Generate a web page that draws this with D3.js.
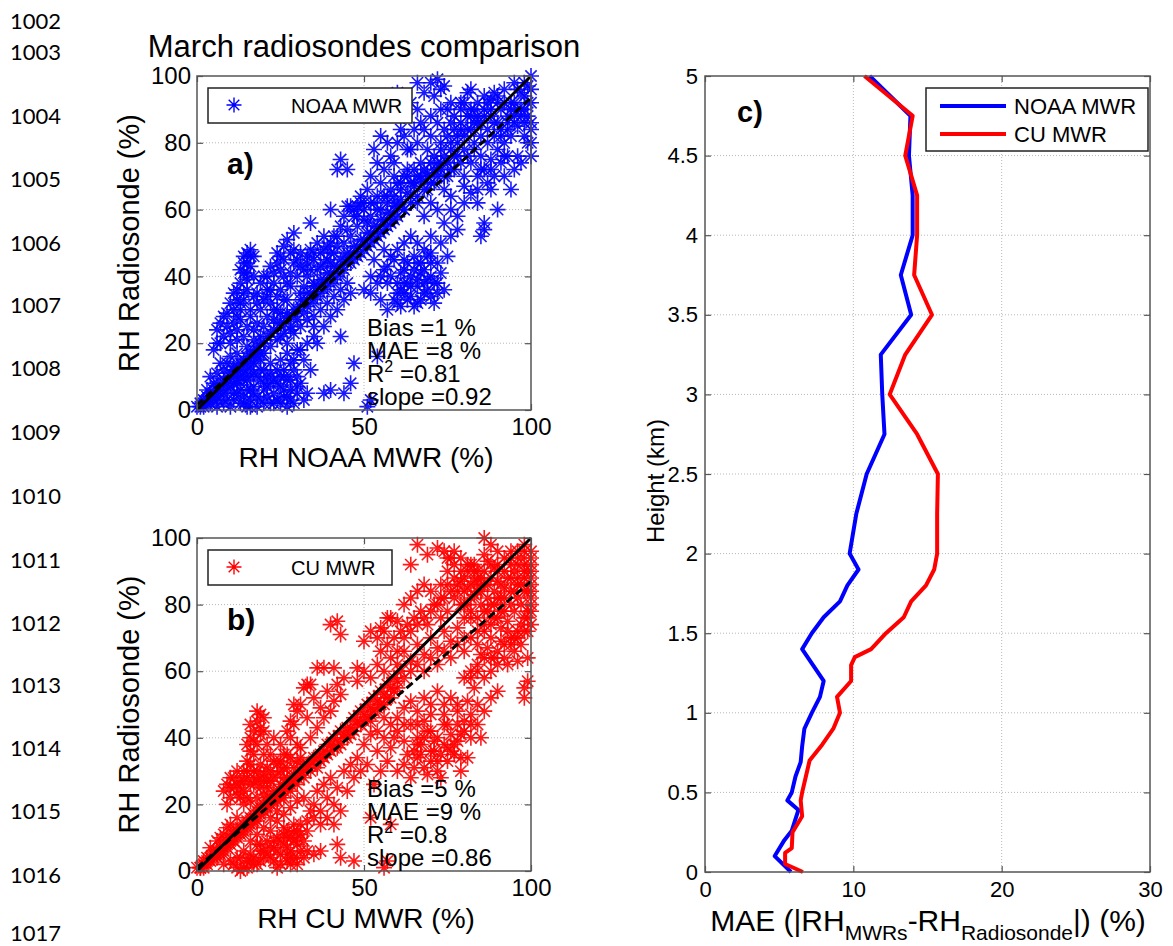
<!DOCTYPE html>
<html>
<head>
<meta charset="utf-8">
<script src="https://cdn.jsdelivr.net/npm/d3@7"></script>
<style>
  body { margin: 0; background: #fff; }
  text { font-family: "Liberation Sans", Arial, sans-serif; fill: #000; }
  .grid line { stroke: #b8b8b8; stroke-width: 1; stroke-dasharray: 1,2; }
  .lineno { font-family: Lato, "Open Sans", sans-serif; font-size: 22px; }
</style>
</head>
<body>
<div id="chart"></div>
<script>
// ---- data ----
var lineNums = [1002, 1003, 1004, 1005, 1006, 1007, 1008, 1009, 1010, 1011, 1012, 1013, 1014, 1015, 1016, 1017];

var scatterTicksX = [0, 50, 100];
var scatterTicksY = [0, 20, 40, 60, 80, 100];
var maeTicks = [0, 10, 20, 30];
var heightTicks = [0, 0.5, 1, 1.5, 2, 2.5, 3, 3.5, 4, 4.5, 5];

// panel a: [RH NOAA MWR, RH radiosonde]
var noaaPts = [
  [1,1],[2,3],[3,2],[4,5],[5,3],[6,6],[7,4],[8,8],[9,6],[10,10],[11,8],[12,12],[13,10],[14,14],[15,12],[16,16],[17,14],[18,18],[19,15],[20,20],
  [3,6],[5,8],[6,11],[8,12],[9,14],[10,16],[11,13],[12,17],[7,14],[4,10],
  [6,1],[8,2],[10,1],[11,3],[12,5],[13,2],[14,4],[15,6],[16,3],[17,7],[18,4],[19,9],[20,6],[21,10],[22,8],[23,5],[24,3],[25,7],[26,4],[28,3],[29,2],[22,2],[18,1],[15,1],[9,3],[12,8],[14,9],[16,10],[20,12],[22,14],[24,12],[26,10],[28,14],[30,10],[27,17],[25,15],
  [5,18],[7,20],[8,22],[9,25],[10,23],[11,26],[12,24],[13,27],[14,22],[15,25],[16,28],[17,24],[18,26],[19,30],[20,25],[21,28],[22,23],[23,27],[24,30],[25,22],[26,26],[27,29],[28,24],[29,28],[30,30],[10,20],[12,21],[6,24],[8,28],[11,30],
  [13,32],[14,35],[13,38],[14,41],[15,44],[15,47],[16,48],[14,46],[16,43],[12,36],[15,39],[17,34],[16,30],[12,33],[17,46],
  [20,33],[22,36],[24,34],[21,40],[23,38],[25,42],[26,49],[27,51],[28,47],[29,44],[30,40],[31,43],[32,37],[33,46],[34,48],[35,45],[36,50],[37,47],[38,52],[39,49],[40,44],[34,56],[29,53],[26,45],[24,44],[22,43],[28,37],[31,35],[33,40],[35,38],[27,33],[25,36],
  [31,31],[32,33],[33,31],[34,35],[35,33],[36,37],[37,35],[38,39],[39,37],[40,41],[41,39],[42,43],[43,41],[44,46],[45,44],[46,47],[47,45],[48,49],[49,47],[50,51],[51,49],[52,53],[53,51],[54,55],[55,53],[56,57],[57,55],[58,59],[59,57],[60,61],
  [36,42],[38,44],[40,47],[42,49],[44,50],[46,52],[48,55],[50,57],[52,58],[54,60],[41,52],[43,55],[45,54],[47,60],[49,62],[51,56],
  [27,20],[29,23],[31,25],[33,27],[35,28],[37,30],[39,32],[41,34],[43,36],[45,38],[30,18],[32,15],[34,12],[36,20],[38,25],[40,28],[29,12],[31,8],[33,5],[28,6],[35,22],[42,30],[44,33],[46,35],
  [38,5],[40,6],[44,5],[46,8],[52,3],[51,1],[47,14],[43,22],[54,16],
  [50,36],[52,40],[54,38],[56,42],[58,40],[60,38],[62,35],[64,40],[66,37],[68,42],[55,33],[57,30],[59,33],[61,31],[63,44],[65,46],[67,33],[69,36],[70,40],[71,32],[72,44],[73,50],[75,46],[58,46],[60,48],[62,50],[64,52],[66,50],[68,48],[70,52],[53,45],[56,48],
  [45,61],[47,58],[49,64],[51,66],[53,62],[55,68],[57,64],[59,70],[61,66],[63,72],[65,68],[67,74],[69,70],[71,76],[73,72],[50,60],[52,70],[54,74],[56,72],[58,76],[60,62],[62,60],[64,64],[66,62],[68,58],[70,62],[72,60],[74,66],[76,64],[78,58],[57,80],[60,80],[63,78],[53,78],[55,82],[61,84],[59,74],
  [42,72],[43,75],[45,72],[46,61],[48,61],[40,60],[44,58],
  [62,88],[64,92],[66,90],[68,95],[70,98],[72,99],[71,94],[73,96],[75,90],[77,88],[79,92],[81,95],[83,90],[85,86],[87,92],[89,95],[91,90],[93,88],[95,92],[97,95],[99,97],[100,92],[98,90],[96,85],[94,82],[92,80],[90,78],[88,75],[86,72],[84,70],[82,74],[80,78],[78,82],[76,80],[74,84],[72,86],[70,82],[68,84],[66,80],[64,78],[100,84],[100,76],[99,80],[97,74],[95,72],[93,76],[91,74],[89,70],[87,68],[85,72],[83,80],[81,84],[79,86],[77,76],[75,74],[73,78],[71,68],[69,78],[80,67],[82,65],[84,62],[86,56],[85,52],[86,54],[90,60],[88,66],[92,70],[94,66],[96,76],[98,82],[100,86],[74,56],[76,52],[78,54],[80,70],
  [60,95],[66,98],[74,97],[76,92],[82,96],[88,93],[92,96],[95,98],[98,94],
  [2,1],[3,4],[4,2],[5,6],[6,3],[7,8],[8,5],[9,10],[10,7],[11,12],[12,9],[13,14],[14,11],[15,16],[16,13],[17,18],[18,16],[19,20],[20,17],[21,22],[22,19],[23,24],[24,21],[25,26],[26,23],[27,28],[28,25],[29,30],[30,27],[31,33],[32,29],[33,35],[34,32],[35,37],[36,34],[37,39],[38,36],[39,41],[40,38],[41,43],[42,40],[43,45],[44,42],[45,47],[46,44],[47,49],[48,46],[49,51],[50,48],[51,53],[52,50],[53,55],[54,52],[55,57],[56,54],[57,59],[58,56],[59,61],[60,58],[61,63],[62,60],[63,65],[64,62],[65,67],[66,64],[67,69],[68,66],[69,71],[70,68],[72,74],[74,76],[76,78],[78,80],[80,82],[82,84],[84,86],[86,88],[88,90],[90,92],
  [6,20],[7,26],[9,29],[10,32],[11,35],[12,28],[13,30],[14,33],[15,36],[13,42],[14,44],[15,41],[16,46],[17,40],[18,35],[18,32],[19,38],[20,40],[21,36],[22,32],[23,30],[24,26],[25,29],[26,33],[19,22],[17,21],[15,19],
  [16,6],[18,10],[20,8],[22,11],[24,8],[26,12],[27,9],[29,15],[31,18],[33,20],[35,25],[30,5],[32,3],[25,2],[20,2],[27,1],
  [55,40],[57,43],[59,45],[61,41],[63,38],[65,42],[67,44],[69,46],[52,35],[57,38],[62,45],[66,44],[70,47],[72,38],[60,35],
  [55,60],[57,62],[59,64],[61,68],[63,70],[65,72],[67,70],[69,66],[71,72],[73,74],[75,70],[77,72],[79,74],[81,76],[83,78],[85,76],[87,80],[89,82],[91,84],[93,86],[95,88],[97,90],[99,88],[62,82],[65,84],[67,86],[70,88],[73,90],[76,86],[79,90],[82,88],[84,92],[86,90],[90,86],[94,92],[96,96],[100,96],[100,80],[98,86],[92,76],[88,72],[84,66],[80,62],[76,60],
  [60,32],[61,36],[62,42],[63,33],[64,37],[65,31],[66,39],[67,41],[68,35],[69,39],[70,34],[71,38],[72,35],[73,41],[74,36],[62,38],[64,34],[66,32],[68,38],[70,44],
  [14,2],[16,1],[17,5],[19,3],[21,4],[21,7],[23,9],[23,2],[25,10],[26,6],[27,4],[28,9],[30,7],[19,12],[17,11],[15,9],[13,6],[11,5],
  [21,34],[23,41],[24,47],[25,46],[26,40],[27,38],[28,41],[29,48],[30,45],[31,47],[32,42],[33,44],[34,42],[35,47],[37,43],[38,48],[39,45],[40,50],[41,47],[42,52],
  [80,92],[82,90],[84,88],[86,94],[88,88],[90,94],[92,92],[94,90],[96,90],[98,98],[100,100],[99,92],[97,88],[95,86],[93,84],[91,82],[89,86],[87,84],[85,82],[83,86],[81,88],[79,84],[77,84],[75,82],[73,80],[78,76],[76,72],[74,70],[72,70],[70,74],[68,72],[66,70],[64,68],[62,70],[60,68],[58,66],[56,64],[54,64],[52,62],[50,62],[48,58],
  [0,1],[1,2],[2,2],[3,3],[4,4],[5,5],[6,7],[7,6],[8,9],[9,8],[10,11],[11,10],[12,13],[13,12],[14,15],[15,14],[16,17],[17,16],[18,19],[19,17]
];

// panel b: [RH CU MWR, RH radiosonde]
var cuPts = [
  [1,1],[2,2],[3,3],[4,3],[5,5],[6,4],[7,7],[8,6],[9,9],[10,8],[11,11],[12,10],[13,13],[14,12],[15,15],[16,14],[17,17],[18,15],[19,19],[20,18],[21,21],[22,20],
  [4,7],[6,9],[8,11],[9,13],[10,14],[12,16],[11,12],[7,10],
  [8,2],[10,3],[12,1],[13,4],[14,6],[15,3],[16,5],[17,2],[18,8],[19,6],[20,4],[21,9],[22,7],[23,3],[24,10],[25,5],[26,8],[27,3],[28,6],[29,4],[30,2],[18,11],[20,13],[22,12],[24,15],[26,13],[28,10],[30,12],[32,9],[13,0],[16,9],
  [8,24],[9,26],[10,22],[11,25],[12,23],[13,27],[14,24],[15,28],[16,26],[17,30],[18,27],[19,25],[20,29],[21,31],[22,27],[23,33],[24,29],[25,26],[26,31],[27,28],[10,28],[12,30],[14,20],[16,21],[18,22],[20,23],
  [15,33],[16,36],[17,39],[17,42],[18,45],[18,48],[19,47],[16,44],[19,41],[15,38],[20,35],[14,30],[20,46],
  [25,38],[27,42],[29,44],[30,48],[31,50],[33,46],[35,52],[37,49],[39,54],[41,51],[43,53],[36,43],[38,46],[40,48],[42,56],[44,58],[33,56],[29,50],[27,35],[31,37],[34,40],[32,55],[28,45],
  [25,24],[27,26],[29,28],[31,30],[33,32],[35,34],[37,35],[39,38],[41,40],[43,42],[45,43],[47,46],[49,48],[51,50],[53,52],[55,54],[57,56],[59,58],[61,60],[26,22],[28,24],[30,26],[32,28],[34,30],[36,31],[38,34],[40,36],[42,37],[44,40],[46,41],[48,44],[50,45],[52,47],[54,49],[56,50],[58,52],[60,55],
  [22,16],[24,18],[26,17],[28,19],[30,21],[32,22],[34,18],[36,24],[38,26],[40,28],[42,25],[44,30],[46,32],[48,34],[29,14],[31,11],[33,15],[27,12],[35,20],[37,14],[39,22],[41,20],[43,18],[45,24],[47,28],[49,30],
  [35,5],[37,6],[42,8],[43,4],[47,3],[57,3],[56,1],[52,16],[58,14],[27,5],[30,8],[33,6],
  [50,38],[52,41],[54,36],[56,40],[58,37],[60,42],[62,39],[64,44],[66,40],[68,45],[70,36],[72,40],[74,38],[76,41],[78,39],[55,30],[57,33],[60,30],[62,32],[64,28],[66,34],[68,31],[70,33],[72,30],[75,33],[77,35],[79,34],[60,46],[62,49],[64,51],[66,48],[68,52],[70,50],[72,54],[74,47],[76,52],[78,48],[80,45],[82,47],[84,44],[65,36],[53,26],[51,32],[81,51],[83,55],[52,45],[56,46],
  [48,57],[50,60],[52,58],[54,62],[56,60],[58,64],[60,62],[62,66],[64,63],[66,68],[68,65],[70,70],[72,67],[74,72],[76,69],[78,73],[80,70],[55,66],[57,68],[59,70],[61,72],[63,74],[65,76],[67,78],[69,74],[71,80],[73,76],[75,78],[77,82],[79,80],[62,80],[64,82],[66,84],[68,86],[70,84],[60,75],[58,76],[56,72],[54,70],[82,60],[84,62],[86,58],[88,60],[85,65],[87,67],[89,64],
  [40,74],[42,75],[43,71],[36,61],[38,61],[41,61],[48,61],[50,69],[52,72],[55,73],[57,76],[34,56],
  [80,88],[82,92],[84,90],[86,95],[88,98],[87,93],[89,91],[90,87],[92,85],[94,88],[96,92],[98,90],[100,94],[100,88],[99,84],[97,80],[95,78],[93,75],[91,73],[89,76],[87,78],[85,80],[83,83],[81,85],[79,87],[77,88],[75,90],[73,86],[76,94],[74,96],[72,97],[69,95],[64,92],[66,98],[86,100],[90,96],[94,96],[98,96],[100,92],[100,82],[98,76],[96,72],[94,70],[92,68],[90,66],[88,70],[86,74],[84,72],[82,78],[80,76],[78,84],[91,82],[95,84],[97,86],[99,78],[99,72],[97,68],[95,66],[93,62],[98,52],[98,55],[99,57],[99,64],[96,63],[91,69],[85,84],[83,87],[81,80],
  [2,1],[3,2],[5,4],[6,6],[7,5],[8,7],[9,8],[10,9],[11,10],[12,11],[13,12],[14,13],[15,14],[16,15],[17,16],[18,17],[19,18],[20,19],[21,20],[22,21],[23,22],[24,23],[25,22],[26,24],[27,25],[28,26],[29,27],[30,28],[31,29],[32,30],[33,31],[34,32],[35,33],[36,34],[37,33],[38,36],[39,35],[40,38],[41,37],[42,39],[43,38],[44,41],[45,40],[46,43],[47,42],[48,45],[49,44],[50,47],[51,46],[52,49],[53,48],[54,51],[55,50],[56,53],[57,52],[58,55],[59,54],[60,57],[62,58],[64,60],[66,62],[68,60],[70,64],[72,62],[74,66],[76,64],[78,68],[80,66],[82,70],[84,68],[86,72],[88,74],[90,76],[92,78],[94,80],[96,82],[98,84],[100,86],
  [9,20],[10,25],[11,28],[12,26],[13,22],[14,27],[15,30],[16,32],[17,28],[18,30],[19,32],[20,27],[21,25],[22,30],[23,28],[24,32],[25,30],[26,28],[17,35],[18,38],[19,43],[20,42],[21,38],[22,35],[23,40],[16,40],
  [15,1],[17,4],[19,3],[21,5],[23,7],[25,9],[27,10],[29,9],[31,14],[33,12],[35,16],[37,18],[39,16],[41,14],[24,1],[28,2],[30,4],
  [54,42],[58,44],[62,44],[66,44],[70,42],[74,44],[78,44],[82,40],[67,38],[71,36],[75,37],[79,30],[81,34],[63,35],[59,40],[73,28],[69,29],[85,40],[86,48],[88,52],[90,54],[84,50],
  [60,66],[62,70],[64,72],[66,74],[68,76],[70,78],[72,80],[74,82],[76,84],[78,86],[80,84],[82,86],[84,88],[86,90],[88,92],[90,92],[92,90],[94,92],[96,88],[98,92],[100,96],[100,90],[100,80],[99,76],[97,74],[95,70],[93,72],[91,78],[89,80],[87,82],[85,86],[83,90],[81,92],[79,94],[77,96],[75,86],[73,82],
  [65,31],[67,35],[69,42],[71,39],[73,35],[75,44],[77,38],[79,41],[76,36],[72,33],[68,40],[66,38],[70,47],[74,50],[78,50],[80,42],[82,44],
  [11,2],[12,4],[14,1],[16,3],[18,2],[19,8],[20,6],[22,4],[23,9],[24,6],[25,2],[26,11],[27,7],[28,4],[29,12],[30,10],[31,6],[32,4],
  [13,25],[15,22],[17,26],[19,28],[21,27],[23,24],[25,33],[26,35],[27,31],[28,34],[29,31],[30,33],[31,34],[32,32],[30,38],[28,40],
  [82,82],[84,84],[86,86],[88,88],[90,90],[92,94],[94,94],[96,96],[98,98],[97,94],[95,90],[93,88],[91,86],[89,84],[87,86],[85,88],[83,92],[81,90],[79,90],[77,92],[75,94],[80,80],[82,76],[84,76],[86,78],[88,80],[90,82],[92,82],[94,84],[96,86],[98,88],[99,90],[100,84],[100,78],[100,74],[98,72],[96,70],[94,68],[92,64],[90,62],[88,64],[86,64],[84,60],[82,58],[80,58],
  [0,1],[1,1],[2,3],[3,4],[4,4],[5,6],[6,5],[7,6],[8,8],[9,7],[10,10],[11,9],[12,12],[13,11],[14,14],[15,13],[16,16],[17,15],[18,18],[19,17],[20,20],[21,19],[22,22],[23,21],[24,21],[25,23]
];

// fit lines (slope, intercept)
var noaaFit = [0.92, 1.5];
var cuFit = [0.86, 1];
var noaaStats = ["Bias =1 %", "MAE =8 %", "0.81", "slope =0.92"];
var cuStats = ["Bias =5 %", "MAE =9 %", "0.8", "slope =0.86"];

// panel c: MAE profiles
var noaaHeight = [0, 0.1, 0.2, 0.26, 0.39, 0.45, 0.5, 0.6, 0.69, 0.79, 0.9, 1.0, 1.1, 1.2, 1.4, 1.5, 1.6, 1.7, 1.8, 1.9, 2.0, 2.25, 2.5, 2.75, 3.0, 3.25, 3.5, 3.75, 4.0, 4.25, 4.5, 4.75, 5.0];
var noaaMae = [5.8, 4.7, 5.35, 5.85, 6.3, 5.55, 5.85, 6.1, 6.45, 6.55, 6.7, 7.2, 7.75, 8.0, 6.55, 7.2, 8.0, 9.1, 9.6, 10.35, 9.75, 10.2, 10.9, 12.1, 11.95, 11.85, 13.9, 13.2, 14.0, 14.0, 13.75, 13.85, 11.1];
var cuHeight = [0, 0.05, 0.12, 0.15, 0.25, 0.35, 0.45, 0.5, 0.6, 0.7, 0.8, 0.9, 1.0, 1.1, 1.2, 1.3, 1.35, 1.4, 1.5, 1.6, 1.7, 1.8, 1.9, 2.0, 2.25, 2.5, 2.75, 3.0, 3.25, 3.5, 3.75, 4.0, 4.25, 4.5, 4.75, 5.0];
var cuMae = [6.6, 5.4, 5.4, 5.85, 5.9, 6.55, 6.45, 6.55, 6.8, 7.05, 7.9, 8.65, 9.1, 8.9, 9.85, 9.85, 10.1, 11.2, 12.2, 13.4, 13.9, 14.9, 15.45, 15.65, 15.65, 15.7, 14.3, 12.45, 13.5, 15.3, 14.1, 14.3, 14.3, 13.5, 14.0, 10.75];

// ---- layout ----
var W = 1173, H = 946;
var lineY = [21, 52, 116, 179, 243, 305, 368, 432, 496, 560, 623, 685, 748, 811, 875, 933];
var frameColor = "#555";

var svg = d3.select("#chart").append("svg")
  .attr("width", W)
  .attr("height", H);

svg.selectAll("text.lineno")
  .data(lineNums)
  .enter().append("text")
  .attr("class", "lineno")
  .attr("x", 10)
  .attr("y", function(d, i) { return lineY[i] + 8; })
  .text(function(d) { return d; });

svg.append("text")
  .attr("x", 364)
  .attr("y", 57)
  .attr("text-anchor", "middle")
  .attr("font-size", 31)
  .text("March radiosondes comparison");

function star(r) {
  var a = r * 0.7071;
  return "M" + (-r) + ",0L" + r + ",0M0," + (-r) + "L0," + r +
    "M" + (-a) + "," + (-a) + "L" + a + "," + a +
    "M" + (-a) + "," + a + "L" + a + "," + (-a);
}

// dotted grid inside the axes box
function drawGrid(g, x, y, xt, yt) {
  var x0 = x.range()[0], x1 = x.range()[1], y0 = y.range()[0], y1 = y.range()[1];
  g.append("g").attr("class", "grid").selectAll("line")
    .data(xt.slice(1, -1)).enter().append("line")
    .attr("x1", function(d) { return x(d); }).attr("x2", function(d) { return x(d); })
    .attr("y1", y1).attr("y2", y0);
  g.append("g").attr("class", "grid").selectAll("line")
    .data(yt.slice(1, -1)).enter().append("line")
    .attr("y1", function(d) { return y(d); }).attr("y2", function(d) { return y(d); })
    .attr("x1", x0).attr("x2", x1);
}

// inward ticks on all four sides + box
function finishAxes(g, x, y, xt, yt, fmtY, fs, padX, padY) {
  var x0 = x.range()[0], x1 = x.range()[1], y0 = y.range()[0], y1 = y.range()[1];
  var axes = [
    [d3.axisBottom(x).tickValues(xt).tickPadding(padX), "translate(0," + y0 + ")"],
    [d3.axisTop(x).tickValues(xt).tickFormat(""), "translate(0," + y1 + ")"],
    [d3.axisLeft(y).tickValues(yt).tickFormat(fmtY).tickPadding(padY), "translate(" + x0 + ",0)"],
    [d3.axisRight(y).tickValues(yt).tickFormat(""), "translate(" + x1 + ",0)"]
  ];
  axes.forEach(function(a) {
    var ag = g.append("g")
      .attr("transform", a[1])
      .call(a[0].tickSizeInner(-6).tickSizeOuter(0));
    ag.select(".domain").remove();
    ag.selectAll(".tick line").attr("stroke", frameColor).attr("stroke-width", 1.2);
    ag.attr("font-size", fs).attr("font-family", null);
    ag.selectAll("text").attr("fill", "#000");
  });

  g.append("rect")
    .attr("x", x0).attr("y", y1)
    .attr("width", x1 - x0).attr("height", y0 - y1)
    .attr("fill", "none")
    .attr("stroke", frameColor)
    .attr("stroke-width", 1.5);
}

function scatterPanel(o) {
  var x = d3.scaleLinear().domain([0, 100]).range([197, 531]);
  var y = d3.scaleLinear().domain([0, 100]).range([o.bottom, o.top]);
  var g = svg.append("g");

  drawGrid(g, x, y, scatterTicksX, scatterTicksY);

  g.append("g").selectAll("path")
    .data(o.pts).enter().append("path")
    .attr("transform", function(d) { return "translate(" + x(d[0]) + "," + y(d[1]) + ")"; })
    .attr("d", star(8))
    .attr("fill", "none")
    .attr("stroke", o.color)
    .attr("stroke-opacity", 0.9)
    .attr("stroke-width", 1.6);

  g.append("line")
    .attr("x1", x(0)).attr("y1", y(0))
    .attr("x2", x(100)).attr("y2", y(100))
    .attr("stroke", "#000").attr("stroke-width", 3);

  g.append("line")
    .attr("x1", x(0)).attr("y1", y(o.fit[1]))
    .attr("x2", x(100)).attr("y2", y(o.fit[0] * 100 + o.fit[1]))
    .attr("stroke", "#000").attr("stroke-width", 3)
    .attr("stroke-dasharray", "8,4");

  finishAxes(g, x, y, scatterTicksX, scatterTicksY, d3.format("d"), 24, 8, 6);

  // legend
  g.append("rect")
    .attr("x", 208).attr("y", o.top + 12)
    .attr("width", o.legW).attr("height", 35)
    .attr("fill", "#fff").attr("stroke", "#222").attr("stroke-width", 1.5);
  g.append("path")
    .attr("transform", "translate(234," + (o.top + 29) + ")")
    .attr("d", star(7.5))
    .attr("fill", "none").attr("stroke", o.color).attr("stroke-width", 1.4);
  g.append("text")
    .attr("x", 291).attr("y", o.top + 37)
    .attr("font-size", 20)
    .text(o.label);

  g.append("text")
    .attr("x", 227).attr("y", o.letterY)
    .attr("font-size", 30).attr("font-weight", "bold")
    .text(o.letter);

  // statistics
  var st = g.append("text").attr("font-size", 24);
  st.append("tspan").attr("x", 367).attr("y", o.bottom - 74).text(o.stats[0]);
  st.append("tspan").attr("x", 367).attr("y", o.bottom - 51).text(o.stats[1]);
  st.append("tspan").attr("x", 367).attr("y", o.bottom - 28).text("R");
  st.append("tspan").attr("dy", -10).attr("font-size", 16).text("2");
  st.append("tspan").attr("dy", 10).text(" =" + o.stats[2]);
  st.append("tspan").attr("x", 367).attr("y", o.bottom - 5).text(o.stats[3]);

  // axis titles
  g.append("text")
    .attr("x", 366).attr("y", o.bottom + 57)
    .attr("text-anchor", "middle").attr("font-size", 28)
    .text(o.xLabel);
  g.append("text")
    .attr("transform", "translate(139," + ((o.top + o.bottom) / 2) + ") rotate(-90)")
    .attr("text-anchor", "middle").attr("font-size", 29)
    .text("RH Radiosonde (%)");
}

scatterPanel({ top: 76, bottom: 410, pts: noaaPts, color: "#0000ff", fit: noaaFit,
  stats: noaaStats, label: "NOAA MWR", legW: 204, letter: "a)", letterY: 174, xLabel: "RH NOAA MWR (%)" });
scatterPanel({ top: 538, bottom: 871, pts: cuPts, color: "#ff0000", fit: cuFit,
  stats: cuStats, label: "CU MWR", legW: 184, letter: "b)", letterY: 630, xLabel: "RH CU MWR (%)" });

// ---- panel c ----
var xc = d3.scaleLinear().domain([0, 30]).range([705, 1150]);
var yc = d3.scaleLinear().domain([0, 5]).range([872, 76]);
var gc = svg.append("g");
drawGrid(gc, xc, yc, maeTicks, heightTicks);

var line = d3.line()
  .x(function(d) { return xc(d[0]); })
  .y(function(d) { return yc(d[1]); });

gc.append("path")
  .datum(noaaMae.map(function(v, i) { return [v, noaaHeight[i]]; }))
  .attr("d", line)
  .attr("fill", "none").attr("stroke", "#0000ff").attr("stroke-width", 4)
  .attr("stroke-linejoin", "round");
gc.append("path")
  .datum(cuMae.map(function(v, i) { return [v, cuHeight[i]]; }))
  .attr("d", line)
  .attr("fill", "none").attr("stroke", "#ff0000").attr("stroke-width", 4)
  .attr("stroke-linejoin", "round");

finishAxes(gc, xc, yc, maeTicks, heightTicks, d3.format(""), 22, 9, 7);

gc.append("text")
  .attr("x", 737).attr("y", 122)
  .attr("font-size", 29).attr("font-weight", "bold")
  .text("c)");

var leg = [["NOAA MWR", "#0000ff"], ["CU MWR", "#ff0000"]];
gc.append("rect")
  .attr("x", 926).attr("y", 88).attr("width", 222).attr("height", 63)
  .attr("fill", "#fff").attr("stroke", "#222").attr("stroke-width", 1.5);
leg.forEach(function(l, i) {
  gc.append("line")
    .attr("x1", 940).attr("x2", 1006)
    .attr("y1", 106 + i * 28).attr("y2", 106 + i * 28)
    .attr("stroke", l[1]).attr("stroke-width", 4);
  gc.append("text")
    .attr("x", 1014).attr("y", 114 + i * 28)
    .attr("font-size", 22)
    .text(l[0]);
});

var xl = gc.append("text")
  .attr("x", 928).attr("y", 931)
  .attr("text-anchor", "middle").attr("font-size", 30);
xl.append("tspan").text("MAE (|RH");
xl.append("tspan").attr("font-size", 21).attr("dy", 9).text("MWRs");
xl.append("tspan").attr("dy", -9).text("-RH");
xl.append("tspan").attr("font-size", 21).attr("dy", 9).text("Radiosonde");
xl.append("tspan").attr("dy", -9).text("|) (%)");

gc.append("text")
  .attr("transform", "translate(664,481) rotate(-90)")
  .attr("text-anchor", "middle").attr("font-size", 24)
  .text("Height (km)");
</script>
</body>
</html>
